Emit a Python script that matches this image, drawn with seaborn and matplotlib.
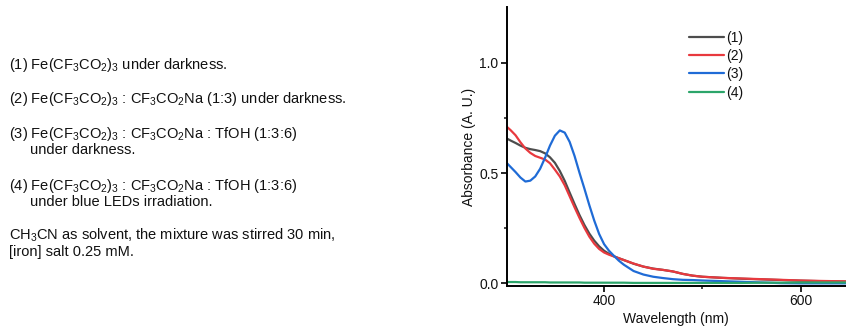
import numpy as np
import pandas as pd
import seaborn as sns
import matplotlib.pyplot as plt
from matplotlib.ticker import FixedLocator

# -------------------- Data --------------------
wavelength = [300, 305, 310, 315, 320, 325, 330, 335, 340, 345, 350, 355, 360,
              365, 370, 375, 380, 385, 390, 395, 400, 405, 410, 415, 420, 430,
              440, 450, 460, 470, 480, 490, 500, 520, 540, 560, 580, 600, 620,
              646]

abs_1 = [0.660, 0.648, 0.637, 0.625, 0.615, 0.609, 0.605, 0.600, 0.590, 0.572,
         0.547, 0.510, 0.465, 0.412, 0.360, 0.310, 0.265, 0.226, 0.194, 0.168,
         0.148, 0.134, 0.123, 0.114, 0.106, 0.089, 0.076, 0.067, 0.061, 0.054,
         0.043, 0.035, 0.030, 0.025, 0.021, 0.018, 0.015, 0.012, 0.010, 0.008]

abs_2 = [0.715, 0.695, 0.672, 0.640, 0.612, 0.592, 0.578, 0.570, 0.562, 0.545,
         0.516, 0.485, 0.445, 0.395, 0.345, 0.297, 0.252, 0.212, 0.180, 0.156,
         0.140, 0.130, 0.122, 0.114, 0.106, 0.090, 0.076, 0.066, 0.061, 0.054,
         0.043, 0.035, 0.030, 0.025, 0.022, 0.019, 0.016, 0.013, 0.011, 0.009]

abs_3 = [0.551, 0.528, 0.505, 0.480, 0.462, 0.466, 0.485, 0.520, 0.570, 0.625,
         0.670, 0.694, 0.684, 0.642, 0.578, 0.502, 0.430, 0.355, 0.285, 0.224,
         0.178, 0.148, 0.125, 0.103, 0.085, 0.056, 0.040, 0.030, 0.024, 0.019,
         0.016, 0.015, 0.013, 0.010, 0.007, 0.004, 0.001, 0.000, 0.000, 0.000]

abs_4 = [0.006, 0.006, 0.006, 0.005, 0.005, 0.005, 0.005, 0.005, 0.005, 0.004,
         0.004, 0.004, 0.004, 0.004, 0.004, 0.004, 0.003, 0.003, 0.003, 0.003,
         0.003, 0.003, 0.003, 0.003, 0.003, 0.002, 0.002, 0.002, 0.002, 0.002,
         0.002, 0.002, 0.002, 0.002, 0.002, 0.003, 0.003, 0.004, 0.004, 0.004]

labels = ['(1)', '(2)', '(3)', '(4)']
colors = ['#4d4d4d', '#e8393e', '#1f6bd6', '#2ca56a']

notes = [
    (r'(1) Fe(CF$_3$CO$_2$)$_3$ under darkness.', 9, 69),
    (r'(2) Fe(CF$_3$CO$_2$)$_3$ : CF$_3$CO$_2$Na (1:3) under darkness.', 9, 103),
    (r'(3) Fe(CF$_3$CO$_2$)$_3$ : CF$_3$CO$_2$Na : TfOH (1:3:6)', 9, 138),
    ('under darkness.', 30, 154),
    (r'(4) Fe(CF$_3$CO$_2$)$_3$ : CF$_3$CO$_2$Na : TfOH (1:3:6)', 9, 190),
    ('under blue LEDs irradiation.', 30, 206),
    (r'CH$_3$CN as solvent, the mixture was stirred 30 min,', 9, 240),
    ('[iron] salt 0.25 mM.', 9, 256),
]

df = pd.DataFrame({
    'wl': wavelength * 4,
    'A': abs_1 + abs_2 + abs_3 + abs_4,
    'sample': sum([[lab] * len(wavelength) for lab in labels], []),
})

# -------------------- Style --------------------
sns.set_theme(style='ticks')
plt.rcParams['font.family'] = ['Liberation Sans', 'DejaVu Sans']
plt.rcParams['mathtext.fontset'] = 'custom'
plt.rcParams['mathtext.rm'] = 'Liberation Sans'
plt.rcParams['mathtext.it'] = 'Liberation Sans:italic'
plt.rcParams['text.color'] = '#111111'
plt.rcParams['axes.labelcolor'] = '#111111'

W, H = 846, 327
fig = plt.figure(figsize=(W / 100, H / 100), dpi=100)
ax = fig.add_axes([506.7 / W, 1 - 286 / H, 1 - 506.7 / W, (286 - 7) / H])

sns.lineplot(data=df, x='wl', y='A', hue='sample', palette=colors,
             estimator=None, linewidth=1.6, ax=ax)

ax.set_xlim(301, 646)
ax.set_ylim(-0.012, 1.254)
ax.xaxis.set_major_locator(FixedLocator([400, 600]))
ax.xaxis.set_minor_locator(FixedLocator([500]))
ax.yaxis.set_major_locator(FixedLocator([0.0, 0.5, 1.0]))
ax.yaxis.set_minor_locator(FixedLocator([0.25, 0.75]))
ax.set_yticklabels(['0.0', '0.5', '1.0'])

for s in ['top', 'right']:
    ax.spines[s].set_visible(False)
for s in ['left', 'bottom']:
    ax.spines[s].set_linewidth(1.4)
    ax.spines[s].set_color('black')
ax.tick_params(which='major', direction='out', length=4, width=1.2,
               labelsize=10, colors='black', labelcolor='#111111', pad=2)
ax.tick_params(which='minor', direction='out', length=2.5, width=1.2)

ax.set_xlabel('Wavelength (nm)', fontsize=10, labelpad=3)
ax.set_ylabel('Absorbance (A. U.)', fontsize=10, labelpad=2)

handles, labs = ax.get_legend_handles_labels()
ax.legend(handles, labs, loc='upper left', bbox_to_anchor=(689 / W, 1 - 31 / H),
          bbox_transform=fig.transFigure, frameon=False, fontsize=10,
          handlelength=2.5, handletextpad=0.15, labelspacing=0.3,
          borderpad=0, borderaxespad=0)

# -------------------- Side notes --------------------
for txt, x, y in notes:
    fig.text(x / W, 1 - y / H, txt, fontsize=10.5, ha='left', va='baseline')

plt.savefig('out.png', dpi=100)
